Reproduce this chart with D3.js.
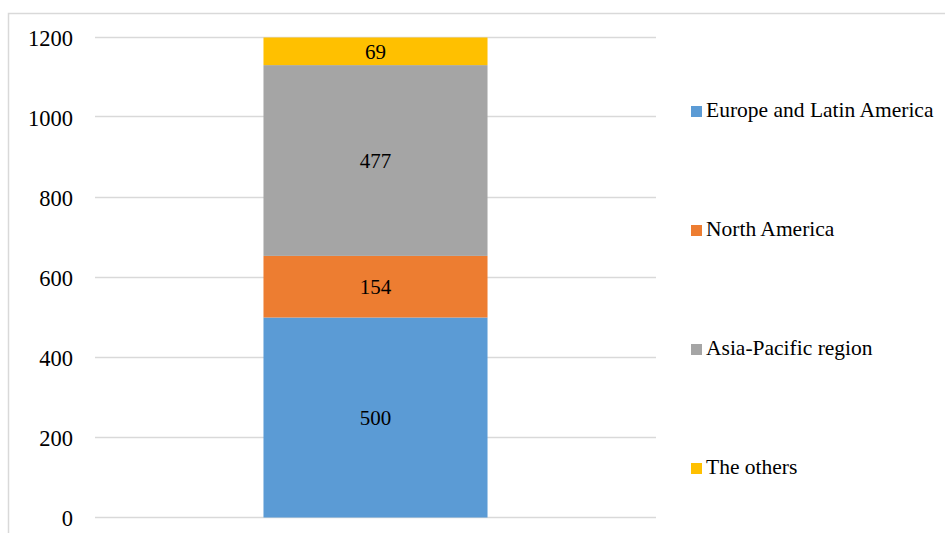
<!DOCTYPE html>
<html><head><meta charset="utf-8">
<script src="https://cdn.jsdelivr.net/npm/d3@7"></script>
<style>body{margin:0;background:#fff}svg{display:block}svg text{font-family:'Liberation Serif','Tinos','Times New Roman','Nimbus Roman','DejaVu Serif',serif !important;fill:#000}</style>
</head><body><svg id="c" width="945" height="533"></svg>
<script>
const seriesNames = ["Europe and Latin America","North America","Asia-Pacific region","The others"];
const seriesValues = [500,154,477,69];
const seriesColors = ["#5B9BD5","#ED7D31","#A5A5A5","#FFC000"];
const yTicks = [0,200,400,600,800,1000,1200];
const category = ["Total"];

const svg = d3.select("#c");
svg.append("rect").attr("x",8.5).attr("y",13.5).attr("width",1000).attr("height",600)
  .attr("fill","none").attr("stroke","#d9d9d9").attr("stroke-width",1.5);

const plot = {left:95,right:656,top:37.5,bottom:517.5};
const y = d3.scaleLinear().domain([0,1200]).range([plot.bottom,plot.top]);
const x = d3.scaleBand().domain(category).range([plot.left,plot.right]).paddingInner(0).paddingOuter(0.752);

// gridlines
svg.append("g").selectAll("line").data(yTicks).join("line")
  .attr("x1",plot.left).attr("x2",plot.right)
  .attr("y1",d=>Math.round(y(d))-0.5).attr("y2",d=>Math.round(y(d))-0.5)
  .attr("stroke","#d9d9d9").attr("stroke-width",1.5);

// y axis labels
const axis = d3.axisLeft(y).tickValues(yTicks).tickFormat(d3.format("d")).tickSize(0).tickPadding(0);
const ga = svg.append("g").attr("transform","translate(73,0)").call(axis);
ga.select(".domain").remove();
ga.attr("font-family",null).attr("font-size",null);
ga.selectAll("text").attr("font-size","22.5px").attr("fill","#000").attr("dy","0.35em");

// stacked bar
const stackData = [Object.fromEntries(seriesNames.map((n,i)=>[n,seriesValues[i]]))];
const stacked = d3.stack().keys(seriesNames)(stackData);
const bx = x(category[0]), bw = x.bandwidth();
const groups = svg.append("g").selectAll("g").data(stacked).join("g")
  .attr("fill",(d,i)=>seriesColors[i]);
groups.append("rect")
  .attr("x",bx).attr("width",bw)
  .attr("y",d=>y(d[0][1])).attr("height",d=>y(d[0][0])-y(d[0][1]));
groups.append("text")
  .attr("x",bx+bw/2).attr("y",d=>(y(d[0][0])+y(d[0][1]))/2)
  .attr("dy","0.35em").attr("text-anchor","middle").attr("font-size","21px")
  .text((d,i)=>seriesValues[i]);

// legend
const lg = svg.append("g").selectAll("g").data(seriesNames).join("g")
  .attr("transform",(d,i)=>`translate(691,${106+i*119})`);
lg.append("rect").attr("width",11).attr("height",11).attr("fill",(d,i)=>seriesColors[i]);
lg.append("text").attr("x",15).attr("y",11).attr("font-size","21.5px").text(d=>d);
</script></body></html>
